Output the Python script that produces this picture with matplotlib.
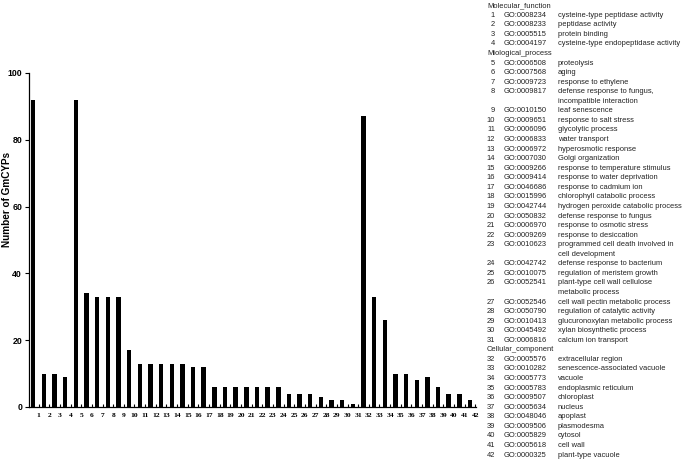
import matplotlib
matplotlib.use("Agg")
import matplotlib.pyplot as plt

# bar heights, terms 1..42
counts = [92, 10, 10, 9, 92, 34, 33, 33, 33, 17,
          13, 13, 13, 13, 13, 12, 12, 6, 6, 6,
          6, 6, 6, 6, 4, 4, 4, 3, 2, 2,
          1, 87, 33, 26, 10, 10, 8, 9, 6, 4,
          4, 2]
labels = [str(i) for i in range(1, 43)]

groups = ["Molecular_function", "Miological_process", "Cellular_component"]
group_start = [1, 5, 32]

go_ids = ["GO:0008234", "GO:0008233", "GO:0005515", "GO:0004197",
          "GO:0006508", "GO:0007568", "GO:0009723", "GO:0009817",
          "GO:0010150", "GO:0009651", "GO:0006096", "GO:0006833",
          "GO:0006972", "GO:0007030", "GO:0009266", "GO:0009414",
          "GO:0046686", "GO:0015996", "GO:0042744", "GO:0050832",
          "GO:0006970", "GO:0009269", "GO:0010623", "GO:0042742",
          "GO:0010075", "GO:0052541", "GO:0052546", "GO:0050790",
          "GO:0010413", "GO:0045492", "GO:0006816", "GO:0005576",
          "GO:0010282", "GO:0005773", "GO:0005783", "GO:0009507",
          "GO:0005634", "GO:0048046", "GO:0009506", "GO:0005829",
          "GO:0005618", "GO:0000325"]
terms = ["cysteine-type peptidase activity", "peptidase activity",
         "protein binding", "cysteine-type endopeptidase activity",
         "proteolysis", "aging", "response to ethylene",
         "defense response to fungus,\nincompatible interaction",
         "leaf senescence", "response to salt stress", "glycolytic process",
         "water transport", "hyperosmotic response", "Golgi organization",
         "response to temperature stimulus", "response to water deprivation",
         "response to cadmium ion", "chlorophyll catabolic process",
         "hydrogen peroxide catabolic process", "defense response to fungus",
         "response to osmotic stress", "response to desiccation",
         "programmed cell death involved in\ncell development",
         "defense response to bacterium", "regulation of meristem growth",
         "plant-type cell wall cellulose\nmetabolic process",
         "cell wall pectin metabolic process",
         "regulation of catalytic activity",
         "glucuronoxylan metabolic process", "xylan biosynthetic process",
         "calcium ion transport", "extracellular region",
         "senescence-associated vacuole", "vacuole", "endoplasmic reticulum",
         "chloroplast", "nucleus", "apoplast", "plasmodesma", "cytosol",
         "cell wall", "plant-type vacuole"]

W, H = 685, 463
fig = plt.figure(figsize=(W / 100, H / 100), dpi=100)
ax = fig.add_axes([29 / W, 56 / H, 447 / W, 334 / H])

x = list(range(len(counts)))
ax.bar(x, counts, width=0.42, color="black")
ax.set_xlim(-0.4, len(counts) - 0.44)
ax.set_ylim(0, 100)
ax.set_yticks([0, 20, 40, 60, 80, 100])
ax.tick_params(axis="y", direction="out", length=3, width=0.8, pad=2)
for t in ax.get_yticklabels():
    t.set_fontfamily("Liberation Sans")
    t.set_fontweight("bold")
    t.set_fontsize(6.3)

ax.set_xticks([i + 0.5 for i in x])
ax.set_xticklabels(labels, fontfamily="Liberation Serif", fontweight="bold",
                   fontsize=5.4)
ax.tick_params(axis="x", direction="in", length=2, width=0.8, pad=4)

ax.spines["top"].set_visible(False)
ax.spines["right"].set_visible(False)
ax.spines["left"].set_linewidth(0.9)
ax.spines["bottom"].set_linewidth(0.9)

ax.set_ylabel("Number of GmCYPs", fontfamily="Liberation Sans",
              fontweight="bold", fontsize=7.2)
ax.yaxis.set_label_coords(-0.038, 0.62)

# term table on the right
y_top, step = 5.7, 9.56
line = 0
fs = 5.4
tcol = "#222222"
for i, (gid, term) in enumerate(zip(go_ids, terms)):
    n = i + 1
    if n in group_start:
        g = groups[group_start.index(n)]
        fig.text(487 / W, 1 - (y_top + line * step) / H, g, fontsize=fs,
                 fontfamily="Liberation Sans", color=tcol, va="center")
        line += 1
    yy = 1 - (y_top + line * step) / H
    fig.text(495 / W, yy, str(n), fontsize=fs, fontfamily="Liberation Sans",
             color=tcol, ha="right", va="center")
    fig.text(504 / W, yy, gid, fontsize=fs, fontfamily="Liberation Sans",
             color=tcol, va="center")
    for k, part in enumerate(term.split("\n")):
        fig.text(558 / W, 1 - (y_top + (line + k) * step) / H, part,
                 fontsize=fs, fontfamily="Liberation Sans", color=tcol,
                 va="center")
    line += len(term.split("\n"))

fig.savefig("out.png", dpi=100)
